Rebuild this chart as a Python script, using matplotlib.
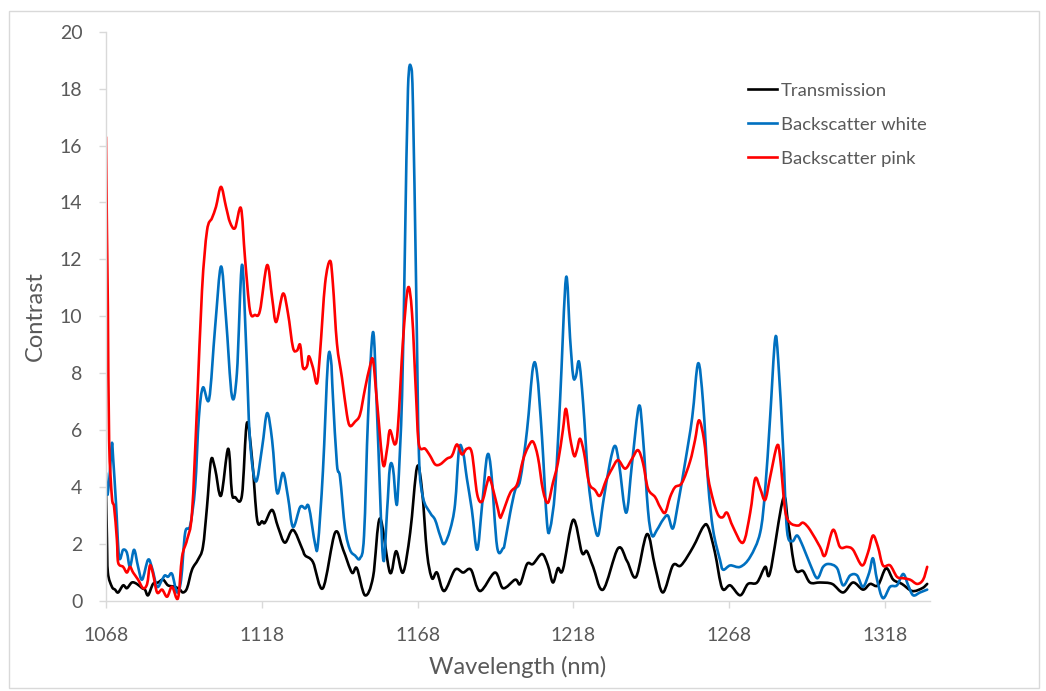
import numpy as np
import matplotlib.pyplot as plt
from matplotlib.patches import Rectangle, PathPatch
from matplotlib.path import Path
from matplotlib.lines import Line2D

plt.rcParams['font.family'] = ['Lato', 'DejaVu Sans']

## data (wavelength in nm, contrast)
trans_wl = [1068.0, 1068.3, 1068.6, 1069.9, 1070.9, 1071.9, 1073.5, 1074.7, 1076.3, 1077.9,
            1079.6, 1080.5, 1081.5, 1083.1, 1084.7, 1086.3, 1087.9, 1090.1, 1091.7, 1092.7,
            1094.0, 1095.6, 1097.5, 1099.1, 1100.4, 1101.7, 1103.0, 1104.9, 1107.2, 1108.4,
            1109.4, 1111.6, 1113.2, 1114.9, 1116.5, 1118.1, 1119.0, 1121.3, 1123.2, 1125.4,
            1128.0, 1130.9, 1131.9, 1134.4, 1137.6, 1141.5, 1144.1, 1146.9, 1148.5, 1151.1,
            1153.7, 1155.9, 1159.1, 1161.1, 1163.3, 1165.6, 1167.8, 1169.4, 1171.0, 1172.6,
            1174.2, 1176.5, 1180.0, 1182.6, 1185.1, 1188.0, 1192.8, 1195.4, 1199.3, 1200.9,
            1203.1, 1205.0, 1207.9, 1209.8, 1211.4, 1213.0, 1214.6, 1217.9, 1220.7, 1222.3,
            1224.3, 1227.5, 1232.3, 1235.2, 1238.1, 1241.6, 1244.2, 1246.7, 1249.9, 1252.5,
            1256.4, 1259.6, 1261.2, 1263.4, 1265.7, 1268.3, 1271.5, 1274.0, 1276.9, 1279.5,
            1281.1, 1285.3, 1286.9, 1289.1, 1291.7, 1293.9, 1297.1, 1301.0, 1304.5, 1307.7,
            1310.9, 1313.2, 1315.7, 1318.3, 1320.6, 1323.4, 1326.7, 1329.9, 1331.5]
trans = [3.9, 2.2, 1.0, 0.5, 0.4, 0.3, 0.55, 0.45, 0.65, 0.6,
         0.45, 0.4, 0.2, 0.6, 0.65, 0.75, 0.55, 0.5, 0.4, 0.3,
         0.45, 1.1, 1.45, 1.9, 3.3, 4.95, 4.65, 3.7, 5.35, 3.8,
         3.65, 3.7, 6.25, 4.95, 2.85, 2.8, 2.75, 3.2, 2.6, 2.05,
         2.5, 1.85, 1.6, 1.37, 0.45, 2.4, 1.8, 1.0, 1.15, 0.2,
         0.85, 2.9, 1.0, 1.75, 1.0, 2.4, 4.7, 3.9, 1.7, 0.8,
         1.0, 0.35, 1.1, 1.0, 1.1, 0.35, 1.0, 0.45, 0.75, 0.6,
         1.3, 1.3, 1.65, 1.25, 0.65, 1.15, 1.1, 2.85, 1.7, 1.75,
         1.2, 0.4, 1.85, 1.4, 0.85, 2.35, 1.2, 0.3, 1.25, 1.25,
         1.9, 2.6, 2.6, 1.7, 0.45, 0.55, 0.2, 0.6, 0.65, 1.2,
         1.0, 3.6, 2.7, 1.15, 1.05, 0.65, 0.65, 0.6, 0.3, 0.65,
         0.4, 0.6, 0.55, 1.15, 0.75, 0.6, 0.35, 0.45, 0.6]

white_wl = [1068.0, 1068.3, 1068.6, 1069.3, 1069.9, 1070.3, 1071.2, 1072.2, 1073.5, 1074.7,
            1075.7, 1077.0, 1078.3, 1079.6, 1081.5, 1082.8, 1084.4, 1086.0, 1086.9, 1087.9,
            1089.2, 1090.8, 1092.1, 1093.4, 1095.0, 1096.6, 1097.8, 1099.1, 1101.1, 1103.0,
            1104.9, 1106.5, 1108.4, 1110.0, 1111.6, 1112.9, 1114.2, 1116.1, 1118.1, 1119.7,
            1121.3, 1122.9, 1124.8, 1126.4, 1128.0, 1130.3, 1131.9, 1133.1, 1135.1, 1136.0,
            1137.6, 1139.2, 1140.2, 1140.8, 1142.1, 1143.1, 1144.7, 1146.3, 1147.9, 1149.5,
            1150.8, 1152.1, 1153.7, 1155.0, 1156.9, 1158.2, 1159.1, 1160.1, 1161.1, 1161.7,
            1163.0, 1163.9, 1164.9, 1165.9, 1166.5, 1167.5, 1168.4, 1169.7, 1172.0, 1173.6,
            1175.2, 1176.5, 1178.4, 1180.0, 1181.3, 1182.6, 1183.8, 1185.4, 1187.1, 1188.7,
            1190.3, 1191.6, 1193.5, 1195.4, 1196.0, 1197.7, 1199.3, 1200.9, 1203.1, 1205.0,
            1206.3, 1207.9, 1209.5, 1210.5, 1212.1, 1213.7, 1215.6, 1216.9, 1217.9, 1218.8,
            1219.8, 1221.1, 1222.7, 1224.3, 1225.9, 1227.5, 1229.7, 1231.3, 1232.6, 1234.9,
            1236.8, 1239.0, 1240.3, 1241.9, 1243.2, 1244.8, 1246.7, 1248.3, 1249.9, 1251.6,
            1253.8, 1256.1, 1258.0, 1259.6, 1261.2, 1262.8, 1265.0, 1266.0, 1268.3, 1271.5,
            1274.7, 1277.9, 1279.5, 1281.1, 1282.7, 1283.7, 1285.3, 1286.5, 1288.2, 1289.8,
            1291.7, 1293.9, 1296.2, 1298.1, 1300.0, 1302.6, 1304.5, 1306.8, 1309.0, 1310.9,
            1312.9, 1314.1, 1315.4, 1317.3, 1319.6, 1321.8, 1323.8, 1325.4, 1327.0, 1329.2,
            1331.5]
white = [4.5, 3.85, 3.8, 4.6, 5.55, 5.0, 3.45, 1.55, 1.8, 1.7,
         1.2, 1.8, 1.2, 0.75, 1.45, 1.15, 0.5, 0.75, 0.9, 0.85,
         0.95, 0.3, 0.75, 2.4, 2.65, 4.0, 6.45, 7.5, 7.1, 9.6,
         11.75, 9.95, 7.2, 8.0, 11.8, 9.15, 5.65, 4.2, 5.4, 6.6,
         5.65, 3.8, 4.5, 3.65, 2.6, 3.3, 3.25, 3.3, 2.0, 2.0,
         4.55, 8.4, 8.45, 7.2, 4.8, 4.35, 2.55, 1.8, 1.6, 1.5,
         2.3, 6.5, 9.45, 6.5, 1.5, 3.2, 4.7, 4.65, 3.45, 3.9,
         7.2, 12.3, 18.0, 18.75, 17.4, 11.15, 5.2, 3.65, 3.1, 2.85,
         2.3, 2.0, 2.5, 3.4, 5.35, 5.2, 4.3, 3.2, 1.8, 3.4,
         5.1, 4.55, 1.9, 1.85, 2.05, 3.1, 3.9, 4.25, 6.0, 8.2,
         8.0, 5.75, 2.75, 2.55, 3.9, 7.05, 11.35, 9.25, 7.9, 7.9,
         8.4, 6.95, 4.35, 2.95, 2.3, 3.45, 4.85, 5.45, 4.85, 3.1,
         4.85, 6.85, 5.75, 3.2, 2.3, 2.5, 2.85, 3.0, 2.55, 3.45,
         4.85, 6.45, 8.35, 6.95, 4.15, 2.5, 1.45, 1.1, 1.25, 1.2,
         1.55, 2.4, 3.9, 6.45, 9.2, 8.45, 5.3, 2.5, 2.1, 2.3,
         1.9, 1.3, 0.8, 1.2, 1.3, 1.15, 0.55, 0.9, 0.9, 0.5,
         1.0, 1.5, 0.75, 0.1, 0.5, 0.55, 0.95, 0.55, 0.2, 0.3,
         0.4]

pink_wl = [1068.0, 1068.3, 1068.6, 1069.0, 1069.9, 1070.6, 1071.5, 1071.9, 1073.5, 1074.7,
           1075.7, 1076.7, 1078.3, 1079.9, 1081.2, 1082.1, 1083.1, 1084.4, 1086.0, 1087.6,
           1089.2, 1091.1, 1092.4, 1094.0, 1095.6, 1097.2, 1098.8, 1100.4, 1102.0, 1103.3,
           1104.9, 1106.5, 1107.8, 1109.4, 1111.3, 1112.6, 1114.2, 1115.8, 1117.4, 1119.7,
           1121.3, 1122.6, 1124.8, 1126.4, 1128.0, 1129.3, 1130.3, 1131.2, 1132.5, 1133.1,
           1134.4, 1135.7, 1136.7, 1138.3, 1139.9, 1140.8, 1142.1, 1143.7, 1145.3, 1146.3,
           1147.9, 1149.5, 1151.1, 1152.7, 1153.7, 1155.0, 1156.9, 1158.2, 1159.1, 1160.7,
           1161.7, 1163.3, 1164.9, 1166.2, 1167.5, 1168.4, 1170.4, 1172.0, 1173.6, 1175.2,
           1177.4, 1179.0, 1180.6, 1182.2, 1183.8, 1185.4, 1187.1, 1188.7, 1190.3, 1191.2,
           1193.5, 1194.4, 1195.1, 1197.7, 1199.9, 1201.8, 1203.4, 1205.0, 1206.6, 1208.2,
           1209.8, 1211.4, 1213.0, 1214.6, 1215.6, 1216.9, 1218.2, 1219.1, 1220.1, 1221.4,
           1223.0, 1224.9, 1226.5, 1228.5, 1230.4, 1232.3, 1234.6, 1236.8, 1238.7, 1240.3,
           1241.9, 1244.2, 1245.8, 1247.4, 1249.0, 1250.6, 1252.8, 1255.4, 1257.0, 1258.3,
           1259.9, 1261.2, 1262.8, 1264.1, 1265.0, 1266.0, 1267.3, 1269.2, 1272.4, 1274.7,
           1276.3, 1277.9, 1279.5, 1281.1, 1283.3, 1284.3, 1285.9, 1287.5, 1290.1, 1291.7,
           1293.9, 1297.1, 1298.7, 1301.3, 1303.5, 1305.8, 1307.7, 1310.6, 1312.5, 1314.1,
           1315.7, 1317.3, 1319.6, 1321.8, 1323.8, 1326.0, 1328.3, 1330.2, 1331.5]
pink = [16.3, 13.0, 10.3, 5.65, 3.65, 3.3, 2.15, 1.35, 1.2, 1.0,
        1.2, 1.0, 0.75, 0.45, 0.6, 1.25, 0.95, 0.3, 0.4, 0.15,
        0.5, 0.1, 1.55, 2.15, 3.1, 6.8, 10.9, 13.0, 13.45, 13.85,
        14.55, 13.85, 13.3, 13.1, 13.8, 12.05, 10.2, 10.05, 10.2, 11.8,
        10.65, 9.8, 10.8, 10.1, 8.9, 8.8, 9.0, 8.2, 8.25, 8.6,
        8.2, 7.65, 8.75, 11.15, 11.95, 11.15, 9.05, 7.85, 6.55, 6.15,
        6.3, 6.55, 7.45, 8.25, 8.45, 6.95, 4.8, 5.35, 6.0, 5.5,
        6.15, 9.15, 11.0, 10.1, 7.2, 5.5, 5.35, 5.1, 4.8, 4.8,
        5.0, 5.1, 5.5, 5.15, 5.35, 5.2, 3.75, 3.5, 4.15, 4.3,
        3.35, 2.95, 3.05, 3.8, 4.1, 4.95, 5.4, 5.6, 5.05, 3.9,
        3.45, 4.15, 4.85, 6.0, 6.75, 5.75, 5.1, 5.3, 5.7, 5.2,
        4.15, 3.9, 3.7, 4.25, 4.65, 4.95, 4.65, 5.0, 5.3, 4.85,
        3.95, 3.65, 3.3, 3.1, 3.65, 4.0, 4.15, 4.9, 5.65, 6.35,
        5.65, 4.35, 3.55, 3.1, 2.95, 2.95, 3.1, 2.6, 2.05, 3.1,
        4.3, 3.95, 3.55, 4.35, 5.45, 5.05, 3.2, 2.75, 2.65, 2.75,
        2.5, 1.9, 1.6, 2.5, 1.9, 1.9, 1.8, 1.25, 1.7, 2.3,
        1.9, 1.25, 1.25, 0.85, 0.8, 0.75, 0.6, 0.75, 1.2]

series = [(trans_wl, trans, 'black', 'Transmission'),
          (white_wl, white, '#0070c0', 'Backscatter white'),
          (pink_wl, pink, '#ff0000', 'Backscatter pink')]

xticks = [1068, 1118, 1168, 1218, 1268, 1318]
yticks = np.arange(0, 21, 2)

grey = '#d9d9d9'
txt = '#595959'


def smooth_path(x, y):
    # Excel-style smoothed line: cubic Bezier through the points (Catmull-Rom tangents)
    p = np.column_stack([x, y])
    q = np.vstack([p[0], p, p[-1]])
    verts = [p[0]]
    codes = [Path.MOVETO]
    for i in range(len(p) - 1):
        c1 = q[i + 1] + (q[i + 2] - q[i]) / 6.0
        c2 = q[i + 2] - (q[i + 3] - q[i + 1]) / 6.0
        verts += [c1, c2, q[i + 2]]
        codes += [Path.CURVE4] * 3
    return Path(verts, codes)


fig = plt.figure(figsize=(10.46, 6.91), dpi=100)
ax = fig.add_axes([106/1046, 1 - 601/691, (930 - 106)/1046, (601 - 31.7)/691])

handles = []
for wl, val, col, lab in series:
    ax.add_patch(PathPatch(smooth_path(wl, val), facecolor='none', edgecolor=col,
                           lw=1.9, capstyle='round', joinstyle='round', clip_on=True))
    handles.append(Line2D([], [], color=col, lw=1.9, label=lab))

ax.set_xlim(1068, 1332.4)
ax.set_ylim(0, 20)
ax.set_xticks(xticks)
ax.set_yticks(yticks)
ax.tick_params(colors=grey, labelcolor=txt, labelsize=14, length=5, width=1)
ax.tick_params(axis='x', pad=14)
ax.tick_params(axis='y', pad=12)
for s in ['top', 'right']:
    ax.spines[s].set_visible(False)
for s in ['left', 'bottom']:
    ax.spines[s].set_color(grey)
    ax.spines[s].set_linewidth(1)

ax.set_xlabel('Wavelength (nm)', fontsize=17, color=txt, labelpad=8)
ax.set_ylabel('Contrast', fontsize=17, color=txt, labelpad=10)

ax.legend(handles=handles, loc='upper left', bbox_to_anchor=(731/1046, 1 - 66/691),
          bbox_transform=fig.transFigure, frameon=False, fontsize=13.3, handlelength=1.6,
          handletextpad=0.2, labelspacing=0.98, labelcolor=txt)

# outer chart border
fig.patches.append(Rectangle((9/1046, 3/691), 1030/1046, 677/691, transform=fig.transFigure,
                             fill=False, edgecolor=grey, lw=1))

plt.savefig('out.png', dpi=100)
